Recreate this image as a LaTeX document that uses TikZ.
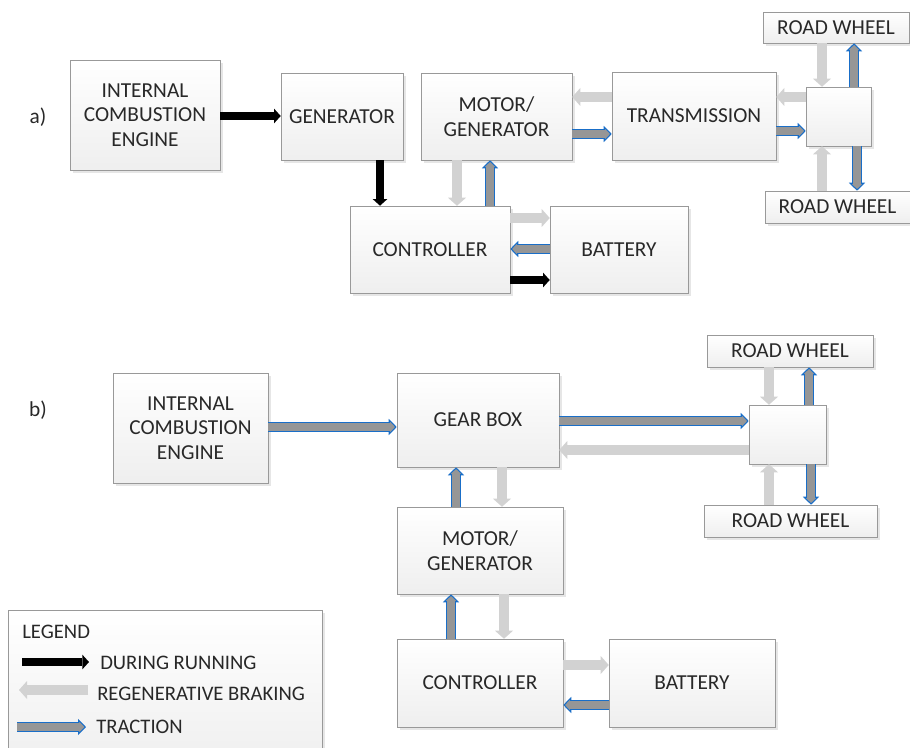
\documentclass[tikz,border=0pt]{standalone}
\usepackage{fontspec}
\setmainfont{Carlito}
\usetikzlibrary{arrows.meta,shadows}

\definecolor{tracblue}{RGB}{25,110,200}
\definecolor{tracgray}{RGB}{150,150,150}
\definecolor{regengray}{RGB}{210,210,210}
\definecolor{txtgray}{RGB}{40,40,40}

\tikzset{
  blk/.style={draw=gray!80, top color=white, bottom color=gray!13,
    drop shadow={shadow xshift=2pt, shadow yshift=-2pt, opacity=.2},
    text=txtgray, align=center, inner sep=2pt,
    font=\fontsize{16}{18.5}\selectfont},
  run/.style={line width=6.5pt, black, -{Triangle[length=5pt,width=11pt,line width=0pt]}},
  regen/.style={line width=8pt, regengray, -{Triangle[length=6pt,width=13.5pt,line width=0pt]}},
  trac/.style={line width=7pt, tracblue,
    -{Triangle[length=6pt,width=12pt,line width=0.8pt,fill=tracgray]},
    postaction={draw=tracgray, line width=5.4pt, -, shorten >=4.8pt}},
  lbl/.style={text=txtgray, anchor=west, inner sep=0pt, font=\fontsize{15.5}{18}\selectfont}
}

\begin{document}
\begin{tikzpicture}[x=0.75pt, y=-0.75pt]
  \useasboundingbox (0,0) rectangle (910,748);

  % a)
  \node[text=txtgray, font=\fontsize{16}{18}\selectfont] (la) at (38,117) {a)};
  \node[blk, minimum width=112.5pt, minimum height=82.5pt] (icea) at (145,115) {INTERNAL\\COMBUSTION\\ENGINE};
  \node[blk, minimum width=91.5pt, minimum height=65.25pt] (gena) at (342,116.5) {GENERATOR};
  \node[blk, minimum width=113.25pt, minimum height=65.25pt] (mga) at (496.5,116.5) {MOTOR/\\GENERATOR};
  \node[blk, minimum width=123pt, minimum height=66pt] (transa) at (694,116) {TRANSMISSION};
  \node[blk, minimum width=48.75pt, minimum height=44.25pt] (huba) at (838.5,116.5) {};
  \node[blk, minimum width=109.5pt, minimum height=23.25pt] (rwta) at (836,27.5) {ROAD WHEEL};
  \node[blk, minimum width=108.75pt, minimum height=24pt] (rwba) at (837.5,207) {ROAD WHEEL};
  \node[blk, minimum width=120pt, minimum height=65.25pt] (ctrla) at (430,249.5) {CONTROLLER};
  \node[blk, minimum width=103.5pt, minimum height=65.25pt] (batta) at (619,249.5) {BATTERY};

  \draw[run] (icea.east |- 0,116) -- (gena.west |- 0,116);
  \draw[run] (gena.south -| 380,0) -- (ctrla.north -| 380,0);
  \draw[regen] (mga.south -| 457,0) -- (ctrla.north -| 457,0);
  \draw[trac] (ctrla.north -| 490,0) -- (mga.south -| 490,0);
  \draw[regen] (ctrla.east |- 0,218) -- (batta.west |- 0,218);
  \draw[trac] (batta.west |- 0,249) -- (ctrla.east |- 0,249);
  \draw[run] (ctrla.east |- 0,280) -- (batta.west |- 0,280);
  \draw[regen] (transa.west |- 0,97) -- (mga.east |- 0,97);
  \draw[trac] (mga.east |- 0,134) -- (transa.west |- 0,134);
  \draw[regen] (huba.west |- 0,97) -- (transa.east |- 0,97);
  \draw[trac] (transa.east |- 0,131) -- (huba.west |- 0,131);
  \draw[regen] (rwta.south -| 822,0) -- (huba.north -| 822,0);
  \draw[trac] (huba.north -| 854,0) -- (rwta.south -| 854,0);
  \draw[regen] (rwba.north -| 822,0) -- (huba.south -| 822,0);
  \draw[trac] (huba.south -| 857,0) -- (rwba.north -| 857,0);

  % b)
  \node[text=txtgray, font=\fontsize{16}{18}\selectfont] (lb) at (38,410) {b)};
  \node[blk, minimum width=116.25pt, minimum height=82.5pt] (iceb) at (190.5,428) {INTERNAL\\COMBUSTION\\ENGINE};
  \node[blk, minimum width=121.5pt, minimum height=70.5pt] (gbb) at (478,420) {GEAR BOX};
  \node[blk, minimum width=57.75pt, minimum height=44.25pt] (hubb) at (787.5,434.5) {};
  \node[blk, minimum width=124.5pt, minimum height=24pt] (rwtb) at (790,351) {ROAD WHEEL};
  \node[blk, minimum width=129.75pt, minimum height=24pt] (rwbb) at (790.5,521) {ROAD WHEEL};
  \node[blk, minimum width=124.5pt, minimum height=65.25pt] (mgb) at (480,550.5) {MOTOR/\\GENERATOR};
  \node[blk, minimum width=124.5pt, minimum height=66pt] (ctrlb) at (480,683) {CONTROLLER};
  \node[blk, minimum width=124.5pt, minimum height=66pt] (battb) at (692,683) {BATTERY};

  \draw[trac] (iceb.east |- 0,427) -- (gbb.west |- 0,427);
  \draw[trac] (gbb.east |- 0,421) -- (hubb.west |- 0,421);
  \draw[regen] (hubb.west |- 0,450) -- (gbb.east |- 0,450);
  \draw[trac] (mgb.north -| 456,0) -- (gbb.south -| 456,0);
  \draw[regen] (gbb.south -| 502,0) -- (mgb.north -| 502,0);
  \draw[trac] (ctrlb.north -| 451,0) -- (mgb.south -| 451,0);
  \draw[regen] (mgb.south -| 504,0) -- (ctrlb.north -| 504,0);
  \draw[regen] (ctrlb.east |- 0,665) -- (battb.west |- 0,665);
  \draw[trac] (battb.west |- 0,705) -- (ctrlb.east |- 0,705);
  \draw[regen] (rwtb.south -| 769,0) -- (hubb.north -| 769,0);
  \draw[trac] (hubb.north -| 809,0) -- (rwtb.south -| 809,0);
  \draw[regen] (rwbb.north -| 769,0) -- (hubb.south -| 769,0);
  \draw[trac] (hubb.south -| 811,0) -- (rwbb.north -| 811,0);

  % legend
  \node[blk, minimum width=235.5pt, minimum height=120pt] (leg) at (165,690) {};
  \node[lbl] (legt) at (22,632) {LEGEND};
  \coordinate (runs) at (22,662);
  \coordinate (rune) at (89,662);
  \coordinate (regs) at (88,690);
  \coordinate (rege) at (19,690);
  \coordinate (tras) at (17,727);
  \coordinate (trae) at (86,727);
  \draw[run] (runs) -- (rune);
  \draw[regen] (regs) -- (rege);
  \draw[trac] (tras) -- (trae);
  \node[lbl] (lrun) at (100,663) {DURING RUNNING};
  \node[lbl] (lreg) at (97,694) {REGENERATIVE BRAKING};
  \node[lbl] (ltra) at (96,727) {TRACTION};
\end{tikzpicture}
\end{document}
